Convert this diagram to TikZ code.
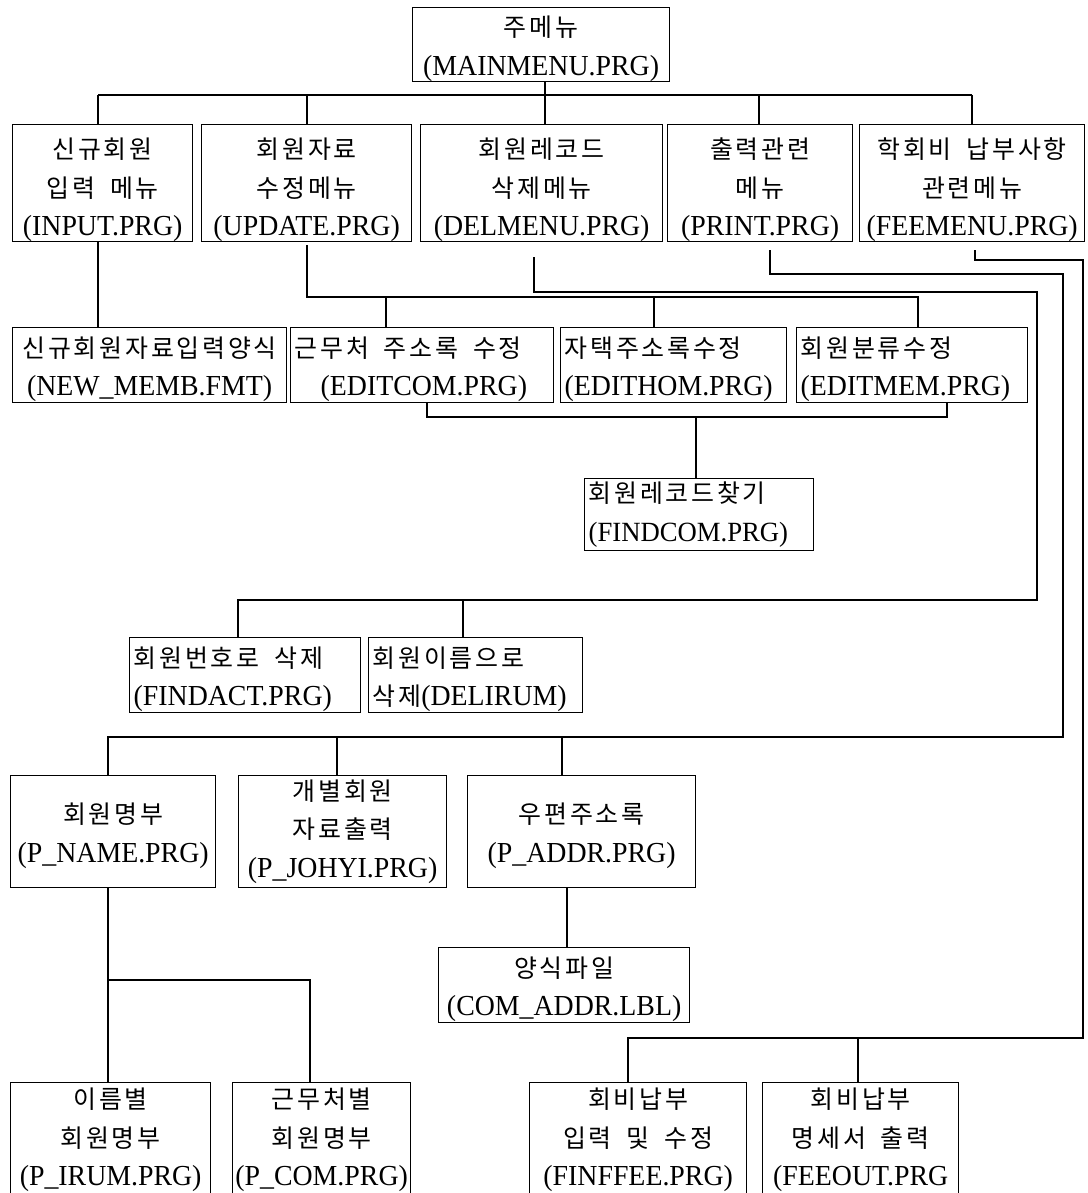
\documentclass[tikz,border=0pt]{standalone}
\usepackage{fontspec}
\setmainfont{Liberation Serif}[FakeStretch=0.96]
\newfontfamily\krfont{Noto Sans CJK KR}[Scale=0.86,LetterSpace=11]
\newcommand{\kt}[1]{{\krfont #1}}
\newcommand{\kf}[1]{\rule{0pt}{29pt}{\krfont #1}}
\newcommand{\kF}[1]{\rule{0pt}{34pt}{\krfont #1}}
\newcommand{\ksp}{\hspace{15pt}}
\begin{document}
\begin{tikzpicture}[x=1pt,y=-1pt,
  box/.style={draw, line width=1.3pt, inner sep=0pt, anchor=north west, align=center,
    font=\fontsize{29}{38.5}\selectfont},
  lbox/.style={box, align=left, inner xsep=4pt},
  ln/.style={line width=1.3pt}]
\useasboundingbox (0,0) rectangle (1087,1193);
\clip (0,0) rectangle (1087,1193);
% top
\node[box, minimum width=257pt, minimum height=73pt] (main) at (412,7) {\kf{주메뉴}\\(MAINMENU.PRG)};
% row 1
\node[box, minimum width=180pt, minimum height=114pt] (input) at (12,124) {\kF{신규회원}\\\kt{입력\ksp 메뉴}\\(INPUT.PRG)};
\node[box, minimum width=210pt, minimum height=114pt] (update) at (201,124) {\kF{회원자료}\\\kt{수정메뉴}\\(UPDATE.PRG)};
\node[box, minimum width=242pt, minimum height=114pt] (delm) at (420,124) {\kF{회원레코드}\\\kt{삭제메뉴}\\(DELMENU.PRG)};
\node[box, minimum width=185pt, minimum height=114pt] (printm) at (667,124) {\kF{출력관련}\\\kt{메뉴}\\(PRINT.PRG)};
\node[box, minimum width=225pt, minimum height=114pt] (feem) at (859,124) {\kF{학회비\ksp 납부사항}\\\kt{관련메뉴}\\(FEEMENU.PRG)};
% row 2
\node[box, minimum width=274pt, minimum height=75pt] (newm) at (12,327) {\kf{신규회원자료입력양식}\\(NEW\_MEMB.FMT)};
\node[lbox, minimum width=263pt, text width=255pt, minimum height=75pt] (editcom) at (290,327) {\kf{근무처\ksp 주소록\ksp 수정}\\\hspace*{26pt}(EDITCOM.PRG)};
\node[lbox, minimum width=226pt, text width=218pt, minimum height=75pt] (edithom) at (560,327) {\kf{자택주소록수정}\\(EDITHOM.PRG)};
\node[lbox, minimum width=231pt, text width=223pt, minimum height=75pt] (editmem) at (796,327) {\kf{회원분류수정}\\(EDITMEM.PRG)};
\node[lbox, minimum width=229pt, text width=221pt, minimum height=72pt] (findcom) at (584,478) {\kt{회원레코드찾기}\\{\fontsize{27.8}{38.5}\selectfont(FINDCOM.PRG)}};
% delete group
\node[lbox, minimum width=231pt, text width=223pt, minimum height=75pt] (findact) at (129,637) {\kf{회원번호로\ksp 삭제}\\(FINDACT.PRG)};
\node[lbox, minimum width=214pt, text width=206pt, minimum height=75pt] (delirum) at (368,637) {\kf{회원이름으로}\\\kt{삭제}(DELIRUM)};
% print group
\node[box, minimum width=205pt, minimum height=112pt] (pname) at (10,775) {\kf{회원명부}\\(P\_NAME.PRG)};
\node[box, minimum width=208pt, minimum height=112pt] (johyi) at (238,775) {\kt{개별회원}\\\kt{자료출력}\\(P\_JOHYI.PRG)};
\node[box, minimum width=228pt, minimum height=112pt] (paddr) at (467,775) {\kf{우편주소록}\\(P\_ADDR.PRG)};
\node[box, minimum width=251pt, minimum height=75pt] (comaddr) at (438,947) {\kf{양식파일}\\(COM\_ADDR.LBL)};
% bottom row
\node[box, minimum width=200pt, minimum height=115pt] (pirum) at (10,1082) {\kt{이름별}\\\kt{회원명부}\\(P\_IRUM.PRG)};
\node[box, minimum width=178pt, minimum height=115pt] (pcom) at (232,1082) {\kt{근무처별}\\\kt{회원명부}\\(P\_COM.PRG)};
\node[box, minimum width=217pt, minimum height=115pt] (finffee) at (529,1082) {\kt{회비납부}\\\kt{입력\ksp 및\ksp 수정}\\(FINFFEE.PRG)};
\node[box, minimum width=196pt, minimum height=115pt] (feeout) at (762,1082) {\kt{회비납부}\\\kt{명세서\ksp 출력}\\(FEEOUT.PRG};
% ---- connectors ----
\coordinate (t0) at (545,95);
\coordinate (ta) at (98,95);
\coordinate (tb) at (307,95);
\coordinate (td) at (759,95);
\coordinate (te) at (972,95);
\draw[ln] (t0 |- main.south) -- (t0);
\draw[ln] (ta) -- (te);
\foreach \c/\n in {ta/input, tb/update, t0/delm, td/printm, te/feem}
  \draw[ln] (\c) -- (\c |- \n.north);
% input -> new member form
\coordinate (a1) at (98,241);
\draw[ln] (a1) -- (a1 |- newm.north);
% update -> edit boxes
\coordinate (u0) at (307,245);
\coordinate (u1) at (307,297);
\coordinate (u2) at (918,297);
\coordinate (u3) at (386,297);
\coordinate (u4) at (654,297);
\draw[ln] (u0) -- (u1) -- (u2) -- (u2 |- editmem.north);
\draw[ln] (u3) -- (u3 |- editcom.north);
\draw[ln] (u4) -- (u4 |- edithom.north);
% edit boxes -> findcom
\coordinate (e1) at (427,417);
\coordinate (e2) at (947,417);
\coordinate (e3) at (696,417);
\draw[ln] (e1 |- editcom.south) -- (e1) -- (e2) -- (e2 |- editmem.south);
\draw[ln] (e3) -- (e3 |- findcom.north);
% delmenu -> delete group
\coordinate (d0) at (534,257);
\coordinate (d1) at (534,292);
\coordinate (d2) at (1037,292);
\coordinate (d3) at (1037,600);
\coordinate (d4) at (238,600);
\coordinate (d5) at (463,600);
\draw[ln] (d0) -- (d1) -- (d2) -- (d3) -- (d4) -- (d4 |- findact.north);
\draw[ln] (d5) -- (d5 |- delirum.north);
% print -> print group
\coordinate (p0) at (770,250);
\coordinate (p1) at (770,274);
\coordinate (p2) at (1063,274);
\coordinate (p3) at (1063,737);
\coordinate (p4) at (108,737);
\coordinate (p5) at (337,737);
\coordinate (p6) at (562,737);
\draw[ln] (p0) -- (p1) -- (p2) -- (p3) -- (p4) -- (p4 |- pname.north);
\draw[ln] (p5) -- (p5 |- johyi.north);
\draw[ln] (p6) -- (p6 |- paddr.north);
% pname -> lists
\coordinate (n1) at (108,980);
\coordinate (n2) at (310,980);
\draw[ln] (n1 |- pname.south) -- (n1 |- pirum.north);
\draw[ln] (n1) -- (n2) -- (n2 |- pcom.north);
% paddr -> label file
\coordinate (q1) at (567,900);
\draw[ln] (q1 |- paddr.south) -- (q1 |- comaddr.north);
% fee menu -> fee group
\coordinate (f0) at (975,250);
\coordinate (f1) at (975,260);
\coordinate (f2) at (1083,260);
\coordinate (f3) at (1083,1038);
\coordinate (f4) at (628,1038);
\coordinate (f5) at (858,1038);
\draw[ln] (f0) -- (f1) -- (f2) -- (f3) -- (f4) -- (f4 |- finffee.north);
\draw[ln] (f5) -- (f5 |- feeout.north);
\end{tikzpicture}
\end{document}
